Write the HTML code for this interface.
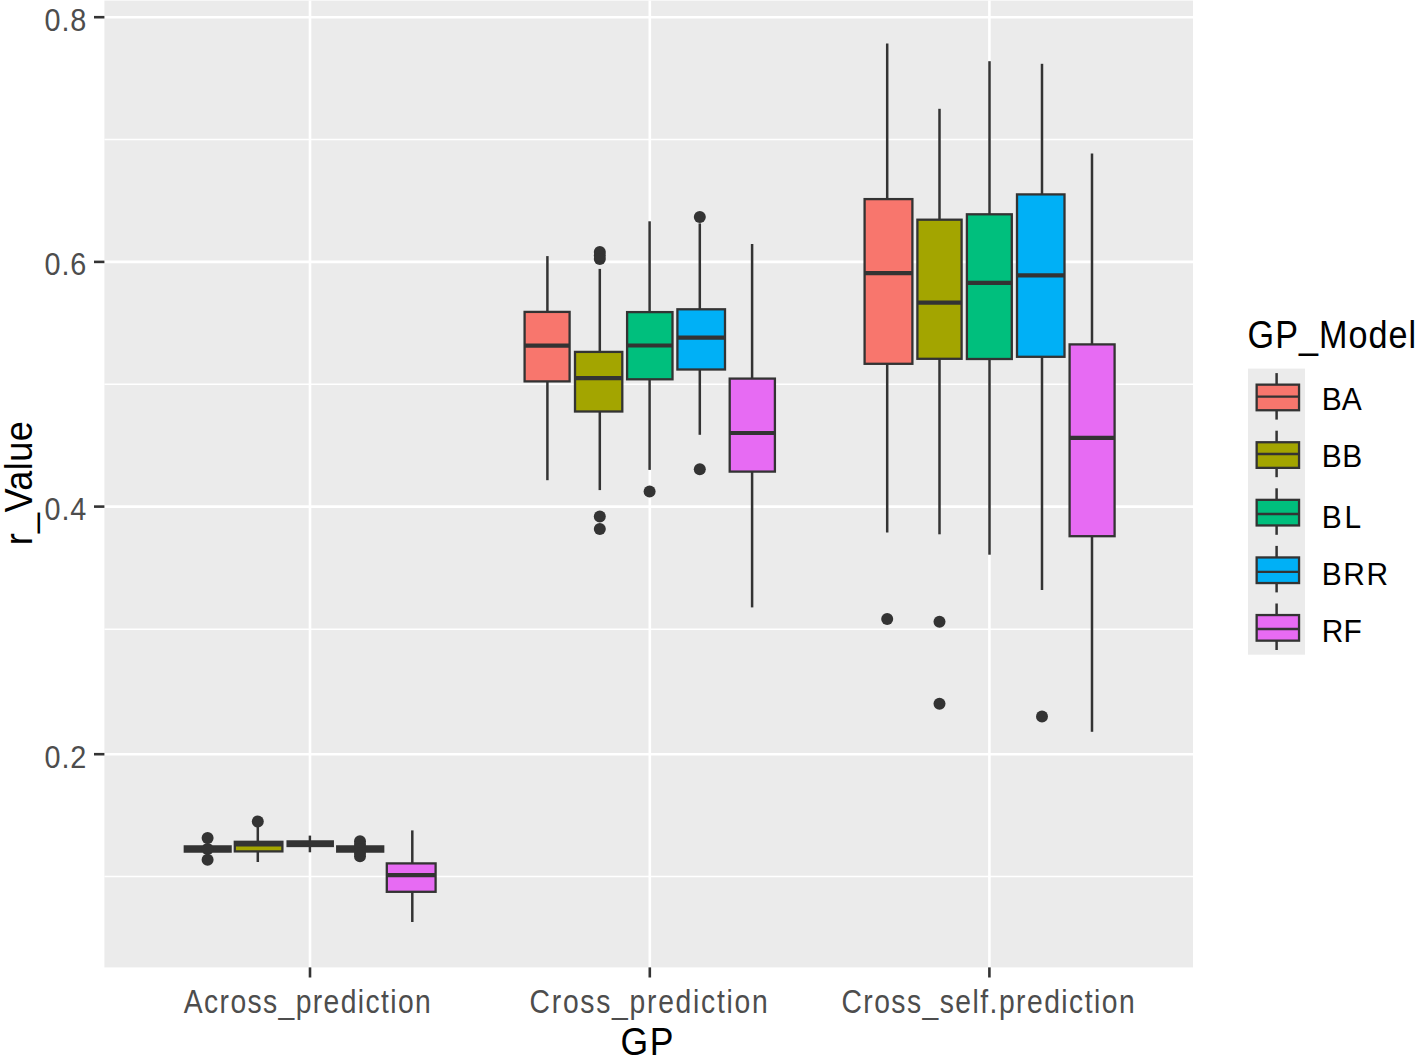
<!DOCTYPE html>
<html><head><meta charset="utf-8"><title>boxplot</title>
<style>
html,body{margin:0;padding:0;background:#fff;}
body{width:1417px;height:1057px;overflow:hidden;}
svg{display:block;font-family:"Liberation Sans",sans-serif;}
</style></head><body>
<svg width="1417" height="1057" viewBox="0 0 1417 1057">
<rect x="104.4" y="0.6" width="1088.6" height="966.8" fill="#EBEBEB"/>
<line x1="104.4" x2="1193" y1="139.5" y2="139.5" stroke="#FFFFFF" stroke-width="1.5"/>
<line x1="104.4" x2="1193" y1="384.3" y2="384.3" stroke="#FFFFFF" stroke-width="1.5"/>
<line x1="104.4" x2="1193" y1="629.2" y2="629.2" stroke="#FFFFFF" stroke-width="1.5"/>
<line x1="104.4" x2="1193" y1="876.5" y2="876.5" stroke="#FFFFFF" stroke-width="1.5"/>
<line x1="104.4" x2="1193" y1="17.2" y2="17.2" stroke="#FFFFFF" stroke-width="2.6"/>
<line x1="104.4" x2="1193" y1="261.9" y2="261.9" stroke="#FFFFFF" stroke-width="2.6"/>
<line x1="104.4" x2="1193" y1="506.6" y2="506.6" stroke="#FFFFFF" stroke-width="2.6"/>
<line x1="104.4" x2="1193" y1="754.2" y2="754.2" stroke="#FFFFFF" stroke-width="2.6"/>
<line x1="310" x2="310" y1="0.6" y2="967.4" stroke="#FFFFFF" stroke-width="2.6"/>
<line x1="649.8" x2="649.8" y1="0.6" y2="967.4" stroke="#FFFFFF" stroke-width="2.6"/>
<line x1="989.4" x2="989.4" y1="0.6" y2="967.4" stroke="#FFFFFF" stroke-width="2.6"/>
<line x1="207.6" x2="207.6" y1="851.6" y2="852.3" stroke="#333333" stroke-width="2.5"/>
<rect x="184.8" y="846.4" width="45.8" height="5.2" fill="#F8766D" stroke="#333333" stroke-width="2.3"/>
<line x1="184.8" x2="230.6" y1="849" y2="849" stroke="#333333" stroke-width="4.2"/>
<circle cx="207.6" cy="838" r="6.0" fill="#333333"/>
<circle cx="207.6" cy="849" r="6.0" fill="#333333"/>
<circle cx="207.6" cy="859.7" r="6.0" fill="#333333"/>
<line x1="257.8" x2="257.8" y1="827" y2="841.8" stroke="#333333" stroke-width="2.5"/>
<line x1="257.8" x2="257.8" y1="851.4" y2="862" stroke="#333333" stroke-width="2.5"/>
<rect x="234.8" y="841.8" width="47.6" height="9.6" fill="#A3A500" stroke="#333333" stroke-width="2.3"/>
<line x1="234.8" x2="282.4" y1="844.4" y2="844.4" stroke="#333333" stroke-width="4.2"/>
<circle cx="257.8" cy="821.6" r="6.0" fill="#333333"/>
<line x1="309.9" x2="309.9" y1="835.6" y2="841.4" stroke="#333333" stroke-width="2.5"/>
<line x1="309.9" x2="309.9" y1="846" y2="852.3" stroke="#333333" stroke-width="2.5"/>
<rect x="287.6" y="841.4" width="45.2" height="4.6" fill="#00BF7D" stroke="#333333" stroke-width="2.3"/>
<line x1="287.6" x2="332.8" y1="843.7" y2="843.7" stroke="#333333" stroke-width="4.2"/>
<line x1="360" x2="360" y1="845.7" y2="846.4" stroke="#333333" stroke-width="2.5"/>
<line x1="360" x2="360" y1="851.6" y2="852.3" stroke="#333333" stroke-width="2.5"/>
<rect x="337.2" y="846.4" width="46" height="5.2" fill="#00B0F6" stroke="#333333" stroke-width="2.3"/>
<line x1="337.2" x2="383.2" y1="849" y2="849" stroke="#333333" stroke-width="4.2"/>
<circle cx="360" cy="841.2" r="6.0" fill="#333333"/>
<circle cx="360" cy="845" r="6.0" fill="#333333"/>
<circle cx="360" cy="849" r="6.0" fill="#333333"/>
<circle cx="360" cy="853" r="6.0" fill="#333333"/>
<circle cx="360" cy="856.3" r="6.0" fill="#333333"/>
<line x1="412.3" x2="412.3" y1="830.4" y2="863.4" stroke="#333333" stroke-width="2.5"/>
<line x1="412.3" x2="412.3" y1="891.8" y2="922" stroke="#333333" stroke-width="2.5"/>
<rect x="386.8" y="863.4" width="48.8" height="28.4" fill="#E76BF3" stroke="#333333" stroke-width="2.3"/>
<line x1="386.8" x2="435.6" y1="875.1" y2="875.1" stroke="#333333" stroke-width="4.2"/>
<line x1="547.4" x2="547.4" y1="256.1" y2="311.9" stroke="#333333" stroke-width="2.5"/>
<line x1="547.4" x2="547.4" y1="381.4" y2="480.2" stroke="#333333" stroke-width="2.5"/>
<rect x="524.6" y="311.9" width="45" height="69.5" fill="#F8766D" stroke="#333333" stroke-width="2.3"/>
<line x1="524.6" x2="569.6" y1="345.6" y2="345.6" stroke="#333333" stroke-width="4.2"/>
<line x1="599.8" x2="599.8" y1="268.9" y2="351.9" stroke="#333333" stroke-width="2.5"/>
<line x1="599.8" x2="599.8" y1="411.5" y2="490.1" stroke="#333333" stroke-width="2.5"/>
<rect x="575" y="351.9" width="47.3" height="59.6" fill="#A3A500" stroke="#333333" stroke-width="2.3"/>
<line x1="575" x2="622.3" y1="378.2" y2="378.2" stroke="#333333" stroke-width="4.2"/>
<circle cx="599.8" cy="252" r="6.0" fill="#333333"/>
<circle cx="599.8" cy="255.5" r="6.0" fill="#333333"/>
<circle cx="599.8" cy="259" r="6.0" fill="#333333"/>
<circle cx="599.8" cy="516.4" r="6.0" fill="#333333"/>
<circle cx="599.8" cy="529.1" r="6.0" fill="#333333"/>
<line x1="649.6" x2="649.6" y1="221.3" y2="312.1" stroke="#333333" stroke-width="2.5"/>
<line x1="649.6" x2="649.6" y1="379.3" y2="469.9" stroke="#333333" stroke-width="2.5"/>
<rect x="627.1" y="312.1" width="45.4" height="67.2" fill="#00BF7D" stroke="#333333" stroke-width="2.3"/>
<line x1="627.1" x2="672.5" y1="345.5" y2="345.5" stroke="#333333" stroke-width="4.2"/>
<circle cx="649.6" cy="491.5" r="6.0" fill="#333333"/>
<line x1="699.8" x2="699.8" y1="223.4" y2="309.3" stroke="#333333" stroke-width="2.5"/>
<line x1="699.8" x2="699.8" y1="369.5" y2="434.8" stroke="#333333" stroke-width="2.5"/>
<rect x="677.4" y="309.3" width="47.6" height="60.2" fill="#00B0F6" stroke="#333333" stroke-width="2.3"/>
<line x1="677.4" x2="725" y1="337.6" y2="337.6" stroke="#333333" stroke-width="4.2"/>
<circle cx="699.8" cy="217" r="6.0" fill="#333333"/>
<circle cx="699.8" cy="469.2" r="6.0" fill="#333333"/>
<line x1="752.1" x2="752.1" y1="244" y2="378.6" stroke="#333333" stroke-width="2.5"/>
<line x1="752.1" x2="752.1" y1="471.6" y2="607.4" stroke="#333333" stroke-width="2.5"/>
<rect x="729.7" y="378.6" width="45.2" height="93" fill="#E76BF3" stroke="#333333" stroke-width="2.3"/>
<line x1="729.7" x2="774.9" y1="433" y2="433" stroke="#333333" stroke-width="4.2"/>
<line x1="887.2" x2="887.2" y1="43.5" y2="199.1" stroke="#333333" stroke-width="2.5"/>
<line x1="887.2" x2="887.2" y1="363.8" y2="532.5" stroke="#333333" stroke-width="2.5"/>
<rect x="864.6" y="199.1" width="47.8" height="164.7" fill="#F8766D" stroke="#333333" stroke-width="2.3"/>
<line x1="864.6" x2="912.4" y1="273.2" y2="273.2" stroke="#333333" stroke-width="4.2"/>
<circle cx="887.2" cy="619" r="6.0" fill="#333333"/>
<line x1="939.5" x2="939.5" y1="108.8" y2="219.7" stroke="#333333" stroke-width="2.5"/>
<line x1="939.5" x2="939.5" y1="358.8" y2="534.3" stroke="#333333" stroke-width="2.5"/>
<rect x="917.4" y="219.7" width="44.2" height="139.1" fill="#A3A500" stroke="#333333" stroke-width="2.3"/>
<line x1="917.4" x2="961.6" y1="302.7" y2="302.7" stroke="#333333" stroke-width="4.2"/>
<circle cx="939.5" cy="621.7" r="6.0" fill="#333333"/>
<circle cx="939.5" cy="703.8" r="6.0" fill="#333333"/>
<line x1="989.5" x2="989.5" y1="61.2" y2="214.3" stroke="#333333" stroke-width="2.5"/>
<line x1="989.5" x2="989.5" y1="359" y2="554.7" stroke="#333333" stroke-width="2.5"/>
<rect x="966.9" y="214.3" width="44.9" height="144.7" fill="#00BF7D" stroke="#333333" stroke-width="2.3"/>
<line x1="966.9" x2="1011.8" y1="282.9" y2="282.9" stroke="#333333" stroke-width="4.2"/>
<line x1="1042" x2="1042" y1="63.8" y2="194.4" stroke="#333333" stroke-width="2.5"/>
<line x1="1042" x2="1042" y1="356.8" y2="590" stroke="#333333" stroke-width="2.5"/>
<rect x="1017" y="194.4" width="47.5" height="162.4" fill="#00B0F6" stroke="#333333" stroke-width="2.3"/>
<line x1="1017" x2="1064.5" y1="275.3" y2="275.3" stroke="#333333" stroke-width="4.2"/>
<circle cx="1042" cy="716.4" r="6.0" fill="#333333"/>
<line x1="1092" x2="1092" y1="153.5" y2="344.4" stroke="#333333" stroke-width="2.5"/>
<line x1="1092" x2="1092" y1="536.2" y2="731.8" stroke="#333333" stroke-width="2.5"/>
<rect x="1069.6" y="344.4" width="45" height="191.8" fill="#E76BF3" stroke="#333333" stroke-width="2.3"/>
<line x1="1069.6" x2="1114.6" y1="437.8" y2="437.8" stroke="#333333" stroke-width="4.2"/>
<line x1="94" x2="104.4" y1="17.2" y2="17.2" stroke="#333333" stroke-width="2.6"/>
<line x1="94" x2="104.4" y1="261.9" y2="261.9" stroke="#333333" stroke-width="2.6"/>
<line x1="94" x2="104.4" y1="506.6" y2="506.6" stroke="#333333" stroke-width="2.6"/>
<line x1="94" x2="104.4" y1="754.2" y2="754.2" stroke="#333333" stroke-width="2.6"/>
<line x1="310" x2="310" y1="967.4" y2="977.5" stroke="#333333" stroke-width="2.6"/>
<line x1="649.8" x2="649.8" y1="967.4" y2="977.5" stroke="#333333" stroke-width="2.6"/>
<line x1="989.4" x2="989.4" y1="967.4" y2="977.5" stroke="#333333" stroke-width="2.6"/>
<text transform="translate(44.6,30.5) scale(0.9,1)" font-size="32" fill="#4D4D4D" textLength="46.37" lengthAdjust="spacing">0.8</text>
<text transform="translate(44.6,275.2) scale(0.9,1)" font-size="32" fill="#4D4D4D" textLength="46.37" lengthAdjust="spacing">0.6</text>
<text transform="translate(44.6,519.9) scale(0.9,1)" font-size="32" fill="#4D4D4D" textLength="46.37" lengthAdjust="spacing">0.4</text>
<text transform="translate(44.6,767.5) scale(0.9,1)" font-size="32" fill="#4D4D4D" textLength="46.37" lengthAdjust="spacing">0.2</text>
<text transform="translate(183.8,1012.6) scale(0.87,1)" font-size="32.5" fill="#4D4D4D" textLength="283.93" lengthAdjust="spacing">Across_prediction</text>
<text transform="translate(529.6,1012.6) scale(0.87,1)" font-size="32.5" fill="#4D4D4D" textLength="273.69" lengthAdjust="spacing">Cross_prediction</text>
<text transform="translate(841.4,1012.6) scale(0.87,1)" font-size="32.5" fill="#4D4D4D" textLength="337.06" lengthAdjust="spacing">Cross_self.prediction</text>
<text transform="translate(620.6,1054.6) scale(0.9,1)" font-size="39.5" fill="#000" textLength="58.84" lengthAdjust="spacing">GP</text>
<text transform="translate(31.9,545.3) rotate(-90) scale(0.95,1)" font-size="38" fill="#000" textLength="130.61" lengthAdjust="spacing">r_Value</text>
<text transform="translate(1247.6,347.6) scale(0.88,1)" font-size="38.8" fill="#000" textLength="191.37" lengthAdjust="spacing">GP_Model</text>
<rect x="1248" y="368.6" width="57" height="286.1" fill="#EBEBEB"/>
<line x1="1276.6" x2="1276.6" y1="373.1" y2="384.65" stroke="#333333" stroke-width="2.5"/>
<line x1="1276.6" x2="1276.6" y1="410.25" y2="419.6" stroke="#333333" stroke-width="2.5"/>
<rect x="1256.65" y="384.65" width="42.4" height="25.6" fill="#F8766D" stroke="#333333" stroke-width="2.3"/>
<line x1="1256.65" x2="1299.05" y1="396.6" y2="396.6" stroke="#333333" stroke-width="2.3"/>
<text transform="translate(1321.8,410) scale(0.95,1)" font-size="31.5" fill="#000" textLength="41.91" lengthAdjust="spacing">BA</text>
<line x1="1276.6" x2="1276.6" y1="430.7" y2="442.25" stroke="#333333" stroke-width="2.5"/>
<line x1="1276.6" x2="1276.6" y1="467.85" y2="477.2" stroke="#333333" stroke-width="2.5"/>
<rect x="1256.65" y="442.25" width="42.4" height="25.6" fill="#A3A500" stroke="#333333" stroke-width="2.3"/>
<line x1="1256.65" x2="1299.05" y1="454" y2="454" stroke="#333333" stroke-width="2.3"/>
<text transform="translate(1321.8,466.9) scale(0.95,1)" font-size="31.5" fill="#000" textLength="42.58" lengthAdjust="spacing">BB</text>
<line x1="1276.6" x2="1276.6" y1="488.3" y2="499.85" stroke="#333333" stroke-width="2.5"/>
<line x1="1276.6" x2="1276.6" y1="525.45" y2="534.8" stroke="#333333" stroke-width="2.5"/>
<rect x="1256.65" y="499.85" width="42.4" height="25.6" fill="#00BF7D" stroke="#333333" stroke-width="2.3"/>
<line x1="1256.65" x2="1299.05" y1="514" y2="514" stroke="#333333" stroke-width="2.3"/>
<text transform="translate(1321.8,527.6) scale(0.95,1)" font-size="31.5" fill="#000" textLength="41.31" lengthAdjust="spacing">BL</text>
<line x1="1276.6" x2="1276.6" y1="545.9" y2="557.45" stroke="#333333" stroke-width="2.5"/>
<line x1="1276.6" x2="1276.6" y1="583.05" y2="592.4" stroke="#333333" stroke-width="2.5"/>
<rect x="1256.65" y="557.45" width="42.4" height="25.6" fill="#00B0F6" stroke="#333333" stroke-width="2.3"/>
<line x1="1256.65" x2="1299.05" y1="571.8" y2="571.8" stroke="#333333" stroke-width="2.3"/>
<text transform="translate(1321.8,585.2) scale(0.95,1)" font-size="31.5" fill="#000" textLength="69.83" lengthAdjust="spacing">BRR</text>
<line x1="1276.6" x2="1276.6" y1="603.5" y2="615.05" stroke="#333333" stroke-width="2.5"/>
<line x1="1276.6" x2="1276.6" y1="640.65" y2="650" stroke="#333333" stroke-width="2.5"/>
<rect x="1256.65" y="615.05" width="42.4" height="25.6" fill="#E76BF3" stroke="#333333" stroke-width="2.3"/>
<line x1="1256.65" x2="1299.05" y1="629" y2="629" stroke="#333333" stroke-width="2.3"/>
<text transform="translate(1321.8,642) scale(0.95,1)" font-size="31.5" fill="#000" textLength="42.21" lengthAdjust="spacing">RF</text>
</svg>
</body></html>
